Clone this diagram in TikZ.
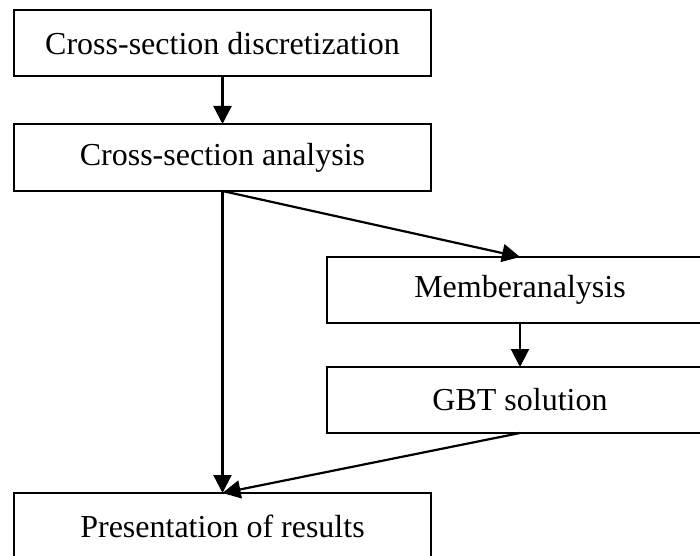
\documentclass[tikz,border=0pt]{standalone}
\usepackage{fontspec}
\setmainfont{Liberation Serif}
\usetikzlibrary{arrows.meta}
\begin{document}
\begin{tikzpicture}[x=1pt,y=1pt,
  box/.style={draw, line width=2pt, inner sep=0pt, outer sep=0pt, minimum height=66pt,
    font=\fontsize{32}{38}\selectfont},
  arr/.style={line width=2.2pt, -{Triangle[length=18pt,width=18pt]}}]
\clip (0,0) rectangle (700,555);
\useasboundingbox (0,0) rectangle (700,555);
\node[box, minimum width=417pt] (b1) at (222.5,511.5) {Cross-section discretization};
\node[box, minimum width=417pt, minimum height=67pt] (b2) at (222.5,397.5) {Cross-section analysis};
\node[box, minimum width=386pt] (b3) at (520,265) {Memberanalysis};
\node[box, minimum width=386pt] (b4) at (520,155) {GBT solution};
\node[box, minimum width=417pt] (b5) at (222.5,29) {Presentation of results};
\draw[arr] (b1.south) -- (b2.north);
\draw[arr] (b2.south) -- (b3.north);
\draw[arr] (b2.south) -- (b5.north);
\draw[arr] (b3.south) -- (b4.north);
\draw[arr] (b4.south) -- (b5.north);
\end{tikzpicture}
\end{document}
